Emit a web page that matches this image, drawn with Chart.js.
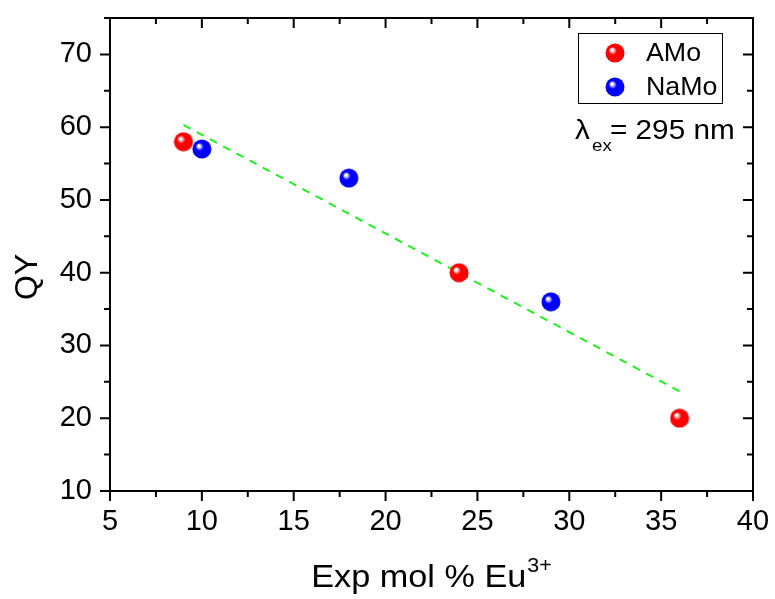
<!DOCTYPE html>
<html>
<head>
<meta charset="utf-8">
<script src="https://cdn.jsdelivr.net/npm/chart.js@4/dist/chart.umd.min.js"></script>
<style>
  html, body { margin: 0; padding: 0; background: #fff; }
  #wrap { width: 775px; height: 599px; }
</style>
</head>
<body>
<div id="wrap"><canvas id="qyChart" width="775" height="599"></canvas></div>
<script>
// values
const amoX = [9, 24, 36];
const amoY = [58, 40, 20];
const namoX = [10, 18, 29];
const namoY = [57, 53, 36];
const fitX = [9, 36];
const fitY = [60.3, 23.7];
const xTicks = [5, 10, 15, 20, 25, 30, 35, 40];
const yTicks = [10, 20, 30, 40, 50, 60, 70];

const FONT = "'Liberation Sans', Arial, sans-serif";

function toPoints(xs, ys) {
    return xs.map(function(x, i) { return { x: x, y: ys[i] }; });
}

// shaded ball marker
function sphere(color, dark) {
    const r = 10;
    const c = document.createElement('canvas');
    c.width = c.height = 2 * r;
    const g = c.getContext('2d');
    const grad = g.createRadialGradient(r - 3.5, r - 3.5, 0, r, r, r);
    grad.addColorStop(0, '#ffffff');
    grad.addColorStop(0.12, '#ffffff');
    grad.addColorStop(0.4, color);
    grad.addColorStop(0.85, color);
    grad.addColorStop(1, dark);
    g.fillStyle = grad;
    g.beginPath();
    g.arc(r, r, r - 0.5, 0, Math.PI * 2);
    g.fill();
    return c;
}
const redBall = sphere('#ff0000', '#c80000');
const blueBall = sphere('#0000ff', '#0000c0');

// text a bit wider than the font, like the original export
function wideText(ctx, txt, x, y, sx) {
    ctx.save();
    ctx.translate(x, y);
    ctx.scale(sx, 1);
    ctx.fillText(txt, 0, 0);
    ctx.restore();
    return ctx.measureText(txt).width * sx;
}

function noScalePadding(s) {
    s.paddingLeft = 0; s.paddingRight = 0;
    s.paddingTop = 0; s.paddingBottom = 0;
}

// frame, tick marks, legend, titles and annotation
const decorations = {
    id: 'decorations',
    afterDraw: function(chart) {
        const ctx = chart.ctx;
        const a = chart.chartArea;
        const xs = chart.scales.x, ys = chart.scales.y;
        ctx.save();
        ctx.strokeStyle = '#000';
        ctx.lineWidth = 2;
        ctx.strokeRect(a.left, a.top, a.right - a.left, a.bottom - a.top);

        ctx.beginPath();
        for (let v = 5; v <= 40; v += 2.5) {
            const px = xs.getPixelForValue(v);
            const len = (v % 5 === 0) ? 10 : 6;
            ctx.moveTo(px, a.bottom); ctx.lineTo(px, a.bottom + len);
            ctx.moveTo(px, a.top); ctx.lineTo(px, a.top + len);
        }
        for (let v = 10; v <= 75; v += 5) {
            const py = ys.getPixelForValue(v);
            const len = (v % 10 === 0) ? 10 : 6;
            ctx.moveTo(a.left, py); ctx.lineTo(a.left - len, py);
            ctx.moveTo(a.right, py); ctx.lineTo(a.right - len, py);
        }
        ctx.stroke();

        // legend box
        ctx.lineWidth = 1;
        ctx.strokeRect(578.5, 33.5, 144, 70);
        ctx.fillStyle = '#000';
        ctx.font = '26px ' + FONT;
        ctx.textBaseline = 'middle';
        ctx.textAlign = 'left';
        ctx.drawImage(redBall, 605, 43);
        wideText(ctx, chart.data.datasets[0].label, 646, 54, 1.03);
        ctx.drawImage(blueBall, 605, 77);
        wideText(ctx, chart.data.datasets[1].label, 646, 88, 1.03);

        // excitation wavelength
        ctx.textBaseline = 'alphabetic';
        ctx.font = '27px ' + FONT;
        wideText(ctx, '\u03BB', 575, 139, 1.1);
        ctx.font = '17px ' + FONT;
        wideText(ctx, 'ex', 592, 151, 1.1);
        ctx.font = '27px ' + FONT;
        wideText(ctx, '= 295 nm', 610, 139, 1.1);

        // x title with superscript
        const sx = 1.07;
        ctx.font = '32px ' + FONT;
        const wMain = ctx.measureText('Exp mol % Eu').width * sx;
        ctx.font = '20px ' + FONT;
        const wSup = ctx.measureText('3+').width * sx;
        const x0 = (a.left + a.right) / 2 - (wMain + wSup + 1) / 2;
        ctx.font = '32px ' + FONT;
        wideText(ctx, 'Exp mol % Eu', x0, 587, sx);
        ctx.font = '20px ' + FONT;
        wideText(ctx, '3+', x0 + wMain + 1, 572, sx);

        // y title
        ctx.translate(37, 277);
        ctx.rotate(-Math.PI / 2);
        ctx.font = '32px ' + FONT;
        ctx.textAlign = 'center';
        ctx.fillText('QY', 0, 0);
        ctx.restore();
    }
};

new Chart(document.getElementById('qyChart'), {
    type: 'scatter',
    data: {
        datasets: [
            {
                label: 'AMo',
                data: toPoints(amoX, amoY),
                pointStyle: redBall,
                pointRadius: 10,
                order: 1
            },
            {
                label: 'NaMo',
                data: toPoints(namoX, namoY),
                pointStyle: blueBall,
                pointRadius: 10,
                order: 2
            },
            {
                type: 'line',
                label: 'fit',
                data: toPoints(fitX, fitY),
                borderColor: '#22ee22',
                borderWidth: 2,
                borderDash: [8, 7],
                pointRadius: 0,
                fill: false,
                order: 3
            }
        ]
    },
    options: {
        responsive: false,
        animation: false,
        layout: { padding: { left: 0, top: 18, right: 22, bottom: 0 } },
        plugins: {
            legend: { display: false },
            tooltip: { enabled: false }
        },
        scales: {
            x: {
                type: 'linear',
                min: 5,
                max: 40,
                afterFit: function(s) { s.height = 108; noScalePadding(s); },
                afterBuildTicks: function(s) { s.ticks = xTicks.map(function(v) { return { value: v }; }); },
                grid: { display: true, drawOnChartArea: false, drawTicks: false, color: 'rgba(0,0,0,0)' },
                border: { display: false },
                ticks: { color: '#000', padding: 14, maxRotation: 0, font: { family: FONT, size: 29 } }
            },
            y: {
                type: 'linear',
                min: 10,
                max: 75,
                afterFit: function(s) { s.width = 110; noScalePadding(s); },
                afterBuildTicks: function(s) { s.ticks = yTicks.map(function(v) { return { value: v }; }); },
                grid: { display: true, drawOnChartArea: false, drawTicks: false, color: 'rgba(0,0,0,0)' },
                border: { display: false },
                ticks: { color: '#000', padding: 18, font: { family: FONT, size: 29 } }
            }
        }
    },
    plugins: [decorations]
});
</script>
</body>
</html>
